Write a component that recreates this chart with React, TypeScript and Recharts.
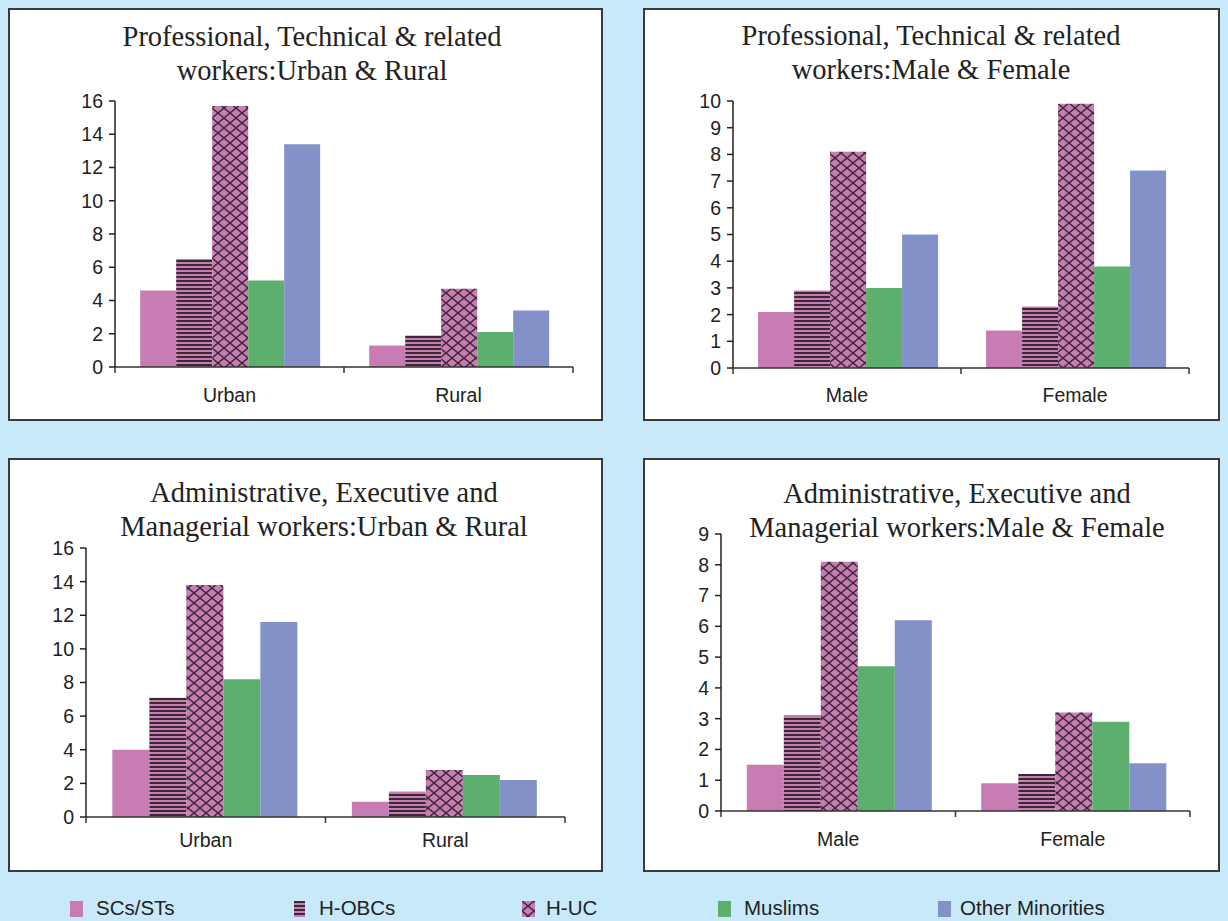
import { BarChart, Bar, XAxis, YAxis } from 'recharts';

// series names
const seriesNames = ['SCs/STs', 'H-OBCs', 'H-UC', 'Muslims', 'Other Minorities'];

// chart 1: Professional, urban & rural
const areaCats = ['Urban', 'Rural'];
const profAreaSc = [4.6, 1.3];
const profAreaObc = [6.5, 1.9];
const profAreaUc = [15.7, 4.7];
const profAreaMus = [5.2, 2.1];
const profAreaOth = [13.4, 3.4];

// chart 2: Professional, male & female
const sexCats = ['Male', 'Female'];
const profSexSc = [2.1, 1.4];
const profSexObc = [2.9, 2.3];
const profSexUc = [8.1, 9.9];
const profSexMus = [3.0, 3.8];
const profSexOth = [5.0, 7.4];

// chart 3: Administrative, urban & rural
const admAreaSc = [4.0, 0.9];
const admAreaObc = [7.1, 1.5];
const admAreaUc = [13.8, 2.8];
const admAreaMus = [8.2, 2.5];
const admAreaOth = [11.6, 2.2];

// chart 4: Administrative, male & female
const admSexSc = [1.5, 0.9];
const admSexObc = [3.1, 1.2];
const admSexUc = [8.1, 3.2];
const admSexMus = [4.7, 2.9];
const admSexOth = [6.2, 1.55];

const ticks16 = [0, 2, 4, 6, 8, 10, 12, 14, 16];
const ticks10 = [0, 1, 2, 3, 4, 5, 6, 7, 8, 9, 10];
const ticks9 = [0, 1, 2, 3, 4, 5, 6, 7, 8, 9];

const fills = ['#c77cb4', 'url(#obcStripes)', 'url(#hucHatch)', '#5daf6e', '#8391c8'];
const SANS = '"Liberation Sans", Arial, sans-serif';
const SERIF = '"Liberation Serif", "Times New Roman", serif';

function makeData(cats: string[], cols: number[][]) {
    return cats.map((c, i) => {
        const row: any = { name: c };
        seriesNames.forEach((s, j) => { row[s] = cols[j][i]; });
        return row;
    });
}

const xTick = (bw: number, dy: number) => (props: any) => {
    const { x, y, payload, index } = props;
    return (
        <g>
            <text x={x} y={y + dy} textAnchor="middle" fill="#222" fontSize={19.5} fontFamily={SANS}>
                {payload.value}
            </text>
            <line x1={x + bw / 2} x2={x + bw / 2} y1={y} y2={y + 6} stroke="#333" strokeWidth={1.5} />
            {index === 0 && <line x1={x - bw / 2} x2={x - bw / 2} y1={y} y2={y + 6} stroke="#333" strokeWidth={1.5} />}
        </g>
    );
};

interface PanelProps {
    title: string[];
    titleCx: number;
    titleTop: number;
    left: number;
    top: number;
    width: number;
    height: number;
    margin: { top: number; right: number; bottom: number; left: number };
    yWidth: number;
    ticks: number[];
    labelDy: number;
    data: any[];
}

function Panel({ title, titleCx, titleTop, left, top, width, height, margin, yWidth, ticks, labelDy, data }: PanelProps) {
    const plotW = width - margin.left - margin.right - yWidth;
    const bw = plotW / data.length;
    return (
        <>
            <div
                style={{
                    position: 'absolute', left, top, width, height, boxSizing: 'border-box',
                    background: '#fff', border: '2px solid #3a3a3a',
                }}
            />
            <div
                style={{
                    position: 'absolute', left: titleCx - 300, top: titleTop, width: 600, textAlign: 'center',
                    fontFamily: SERIF, fontSize: 28.5, lineHeight: '34px', color: '#222',
                }}
            >
                {title[0]}<br />{title[1]}
            </div>
            <div style={{ position: 'absolute', left, top }}>
                <BarChart width={width} height={height} data={data} margin={margin} barGap={0} barCategoryGap="11%">
                    <XAxis
                        dataKey="name"
                        height={40}
                        axisLine={{ stroke: '#333', strokeWidth: 1.5 }}
                        tickLine={false}
                        tickSize={0}
                        tickMargin={0}
                        tick={xTick(bw, labelDy)}
                        interval={0}
                    />
                    <YAxis
                        width={yWidth}
                        domain={[0, ticks[ticks.length - 1]]}
                        ticks={ticks}
                        interval={0}
                        axisLine={{ stroke: '#222', strokeWidth: 1.5 }}
                        tickLine={{ stroke: '#222', strokeWidth: 1.5 }}
                        tickSize={6}
                        tickMargin={6}
                        tick={{ fill: '#222', fontSize: 19.5, fontFamily: SANS }}
                    />
                    {seriesNames.map((s, i) => (
                        <Bar key={s} dataKey={s} fill={fills[i]} isAnimationActive={false} />
                    ))}
                </BarChart>
            </div>
        </>
    );
}

function LegendIcon({ fill, w = 13 }: { fill: string; w?: number }) {
    return (
        <svg width={w} height={16} style={{ position: 'absolute', top: 2 }}>
            <rect x={0} y={0} width={w} height={16} fill={fill} />
        </svg>
    );
}

const legendIconX = [70, 294, 522, 718, 938];
const legendTextX = [96, 319, 546, 744, 960];

export default function App() {
    return (
        <div style={{ position: 'absolute', left: 0, top: 0, width: 1228, height: 921, background: '#c7e9fa', overflow: 'hidden' }}>
            <svg width={0} height={0} style={{ position: 'absolute' }}>
                <defs>
                    <pattern id="obcStripes" patternUnits="userSpaceOnUse" width={8} height={4}>
                        <rect x={0} y={0} width={8} height={4} fill="#c77cb4" />
                        <rect x={0} y={0} width={8} height={2} fill="#3b2a36" />
                    </pattern>
                    <pattern id="hucHatch" patternUnits="userSpaceOnUse" width={12} height={10}>
                        <rect x={0} y={0} width={12} height={10} fill="#c77cb4" />
                        <path d="M0,0 L12,10 M12,0 L0,10" stroke="#3b2a36" strokeWidth={1.4} />
                    </pattern>
                </defs>
            </svg>

            <Panel
                title={['Professional, Technical & related', 'workers:Urban & Rural']}
                titleCx={312} titleTop={20}
                left={8} top={8} width={595} height={413}
                margin={{ top: 93, right: 30, bottom: 14, left: 47 }} yWidth={60}
                ticks={ticks16} labelDy={35}
                data={makeData(areaCats, [profAreaSc, profAreaObc, profAreaUc, profAreaMus, profAreaOth])}
            />
            <Panel
                title={['Professional, Technical & related', 'workers:Male & Female']}
                titleCx={931} titleTop={19}
                left={643} top={8} width={577} height={413}
                margin={{ top: 93, right: 31, bottom: 13, left: 40 }} yWidth={50}
                ticks={ticks10} labelDy={34}
                data={makeData(sexCats, [profSexSc, profSexObc, profSexUc, profSexMus, profSexOth])}
            />
            <Panel
                title={['Administrative, Executive and', 'Managerial workers:Urban & Rural']}
                titleCx={324} titleTop={476}
                left={8} top={458} width={595} height={414}
                margin={{ top: 90, right: 38, bottom: 15, left: 18 }} yWidth={60}
                ticks={ticks16} labelDy={30}
                data={makeData(areaCats, [admAreaSc, admAreaObc, admAreaUc, admAreaMus, admAreaOth])}
            />
            <Panel
                title={['Administrative, Executive and', 'Managerial workers:Male & Female']}
                titleCx={957} titleTop={477}
                left={643} top={458} width={577} height={414}
                margin={{ top: 76, right: 30, bottom: 21, left: 28 }} yWidth={50}
                ticks={ticks9} labelDy={35}
                data={makeData(sexCats, [admSexSc, admSexObc, admSexUc, admSexMus, admSexOth])}
            />

            {seriesNames.map((s, i) => (
                <div key={s}>
                    <div style={{ position: 'absolute', left: legendIconX[i], top: 899 }}>
                        <LegendIcon fill={fills[i]} w={i === 1 ? 11 : 13} />
                    </div>
                    <div
                        style={{
                            position: 'absolute', left: legendTextX[i], top: 897, fontFamily: SANS,
                            fontSize: 20.5, color: '#222', lineHeight: '22px', whiteSpace: 'nowrap',
                        }}
                    >
                        {s}
                    </div>
                </div>
            ))}
        </div>
    );
}
